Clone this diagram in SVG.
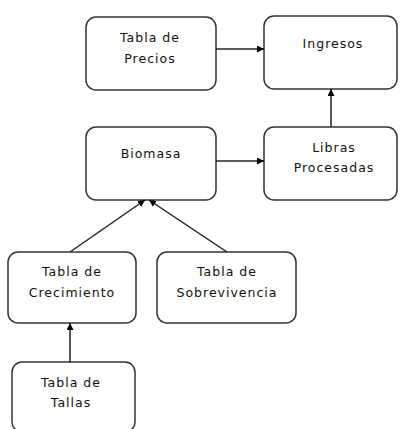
<svg xmlns="http://www.w3.org/2000/svg" width="401" height="429" viewBox="0 0 401 429">
<style>
.box{fill:#fff;stroke:#333;stroke-width:1.5}
.t{font-family:"DejaVu Sans",Verdana,sans-serif;font-size:12.5px;fill:#111;text-anchor:middle;letter-spacing:1px}
.c{stroke:#222;stroke-width:1.5;fill:none;marker-end:url(#ah)}
</style>
<defs>
<marker id="ah" viewBox="0 0 10 10" refX="10" refY="5" markerWidth="7" markerHeight="7" markerUnits="userSpaceOnUse" orient="auto">
<path d="M0,0 L10,5 L0,10 z" fill="#000"/>
</marker>
</defs>
<rect width="401" height="429" fill="#fff"/>
<g id="precios"><rect class="box" x="86" y="17" width="130" height="73" rx="10"/><text class="t" x="150" y="42">Tabla de</text><text class="t" x="150" y="63">Precios</text></g>
<g id="ingresos"><rect class="box" x="264" y="16" width="133" height="73" rx="10"/><text class="t" x="333" y="48">Ingresos</text></g>
<g id="biomasa"><rect class="box" x="86" y="127" width="130" height="73" rx="10"/><text class="t" x="151" y="158">Biomasa</text></g>
<g id="libras"><rect class="box" x="264" y="127" width="133" height="73" rx="10"/><text class="t" x="334" y="152">Libras</text><text class="t" x="334" y="172">Procesadas</text></g>
<g id="crecimiento"><rect class="box" x="8" y="252" width="128" height="71" rx="10"/><text class="t" x="72" y="276">Tabla de</text><text class="t" x="72" y="297">Crecimiento</text></g>
<g id="sobrevivencia"><rect class="box" x="157" y="252" width="139" height="71" rx="10"/><text class="t" x="227" y="276">Tabla de</text><text class="t" x="227" y="297">Sobrevivencia</text></g>
<g id="tallas"><rect class="box" x="12" y="362" width="123" height="70" rx="10"/><text class="t" x="71" y="387">Tabla de</text><text class="t" x="71" y="407">Tallas</text></g>
<g id="connectors">
<line class="c" x1="216" y1="49" x2="264" y2="49"/>
<line class="c" x1="216" y1="161" x2="264" y2="161"/>
<line class="c" x1="331" y1="127" x2="331" y2="89"/>
<line class="c" x1="70" y1="252" x2="145" y2="200"/>
<line class="c" x1="227" y1="252" x2="149" y2="200"/>
<line class="c" x1="70" y1="362" x2="70" y2="323"/>
</g>
</svg>
